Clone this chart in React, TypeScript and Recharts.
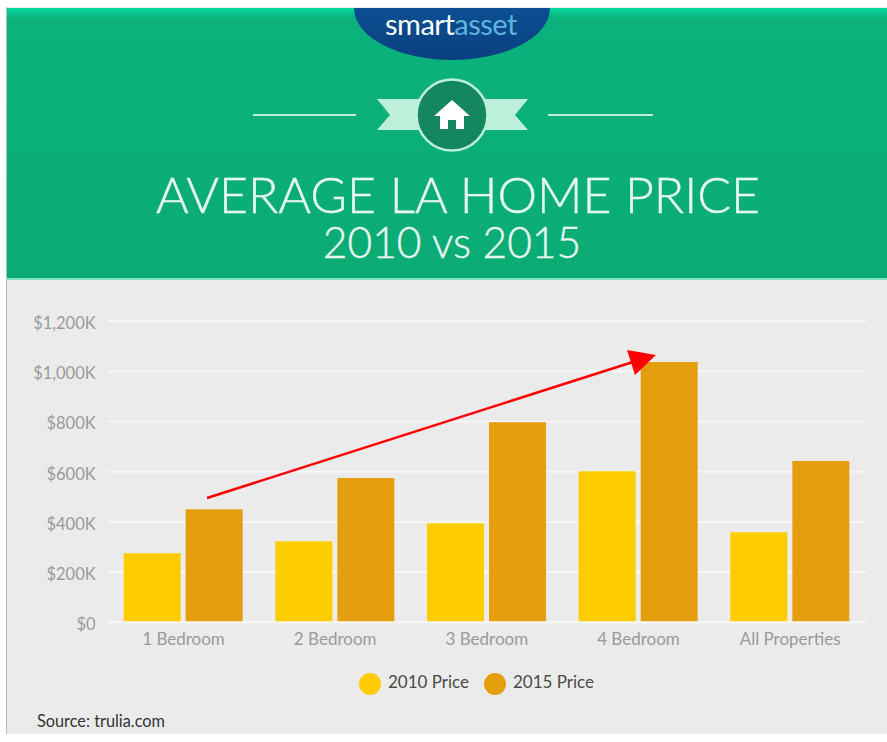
import React from "react";
import { BarChart, Bar, XAxis, YAxis, CartesianGrid, Legend } from "recharts";

const categories = ["1 Bedroom", "2 Bedroom", "3 Bedroom", "4 Bedroom", "All Properties"];
const price2010 = [275, 323, 395, 602, 359];
const price2015 = [450, 575, 797, 1037, 642];
const yTicks = [0, 200, 400, 600, 800, 1000, 1200];
const data = categories.map((name, i) => ({ name, p2010: price2010[i], p2015: price2015[i] }));

const fmt = (v: number) => (v === 0 ? "$0" : `$${v.toLocaleString("en-US")}K`);
const FONT = "Lato, 'Open Sans', sans-serif";

export default function App() {
  return (
    <div style={{ position: "absolute", left: 0, top: 0, width: 887, height: 742, background: "#fff", overflow: "hidden", fontFamily: FONT }}>
      <div style={{ position: "absolute", left: 6, top: 7, width: 881, height: 727, background: "#EBEBEB", borderLeft: "1px solid #bbb" }} />
      <svg width={887} height={742} style={{ position: "absolute", left: 0, top: 0 }}>
        <defs>
          <linearGradient id="gTop" x1="0" y1="0" x2="0" y2="1">
            <stop offset="0" stopColor="#05D79A" />
            <stop offset="0.04" stopColor="#0BB27C" />
            <stop offset="1" stopColor="#0BAB74" />
          </linearGradient>
          <linearGradient id="gBlue" x1="0" y1="0" x2="0" y2="1">
            <stop offset="0" stopColor="#0E5FA3" />
            <stop offset="1" stopColor="#0A3F80" />
          </linearGradient>
          <clipPath id="hdr"><rect x={7} y={8} width={880} height={271} /></clipPath>
        </defs>
        <rect x={7} y={8} width={880} height={271} fill="url(#gTop)" />
        <rect x={7} y={278} width={880} height={2} fill="#7FE3C0" />
        <g clipPath="url(#hdr)">
          <ellipse cx={452} cy={8} rx={98} ry={52} fill="url(#gBlue)" />
        </g>
        <text x={451} y={35} textAnchor="middle" fontSize={29} fontFamily={FONT} fill="#fff" letterSpacing={-0.5}>
          smart<tspan fill="#5FB4DE">asset</tspan>
        </text>
        <rect x={253} y={114} width={103} height={2} fill="#BFF0DC" />
        <rect x={548} y={114} width={105} height={2} fill="#BFF0DC" />
        <polygon points="377,99 430,99 430,130 377,130 390,115" fill="#BDF0DA" />
        <polygon points="528,99 474,99 474,130 528,130 515,115" fill="#BDF0DA" />
        <circle cx={452} cy={115} r={35.5} fill="#15875F" stroke="#BDF0DA" strokeWidth={2.5} />
        <polygon points="452,100 470,116 464,116 464,129 456,129 456,120 448,120 448,129 440,129 440,116 434,116" fill="#fff" />
        <text x={458} y={213} textAnchor="middle" fontSize={50} fontWeight={300} fontFamily={FONT} fill="#E6F7F0" stroke="#E6F7F0" strokeWidth={0.4}>AVERAGE LA HOME PRICE</text>
        <text x={452} y={258} textAnchor="middle" fontSize={42.5} fontWeight={300} fontFamily={FONT} fill="#E6F7F0" stroke="#E6F7F0" strokeWidth={0.4}>2010 vs 2015</text>
      </svg>
      <div style={{ position: "absolute", left: 0, top: 0 }}>
        <BarChart width={887} height={742} data={data} barSize={57} barGap={5} margin={{ top: 321, right: 21, bottom: 66, left: 0 }}>
          <CartesianGrid horizontal vertical={false} stroke="#F6F6F6" strokeWidth={2} />
          <XAxis
            dataKey="name"
            axisLine={{ stroke: "#F6F6F6", strokeWidth: 2 }}
            tickLine={false}
            tickMargin={5}
            interval={0}
            tick={{ fill: "#9A9A9A", fontSize: 17, fontFamily: FONT }}
          />
          <YAxis
            width={107.7}
            domain={[0, 1200]}
            ticks={yTicks}
            axisLine={false}
            tickLine={false}
            tickMargin={6}
            tickFormatter={fmt}
            tick={{ fill: "#9A9A9A", fontSize: 16.5, fontFamily: FONT, dy: 2 }}
          />
          <Legend
            layout="horizontal"
            iconType="circle"
            iconSize={22}
            wrapperStyle={{ position: "absolute", left: 349, top: 671, width: 270, bottom: "auto", fontSize: 17, fontFamily: FONT }}
            formatter={(v: string) => <span style={{ color: "#4A4A4A", marginLeft: 3, paddingRight: 5 }}>{v}</span>}
          />
          <Bar dataKey="p2010" name="2010 Price" fill="#FFCC00" isAnimationActive={false} />
          <Bar dataKey="p2015" name="2015 Price" fill="#E59E0E" isAnimationActive={false} />
        </BarChart>
      </div>
      <svg width={887} height={742} style={{ position: "absolute", left: 0, top: 0, pointerEvents: "none" }}>
        <line x1={207} y1={498} x2={636} y2={361} stroke="#FF0000" strokeWidth={2.5} />
        <polygon points="656,355 627,350 635,375" fill="#FF0000" />
      </svg>
      <div style={{ position: "absolute", left: 37, top: 711, fontSize: 16.3, color: "#333", fontFamily: FONT }}>Source: trulia.com</div>
    </div>
  );
}
